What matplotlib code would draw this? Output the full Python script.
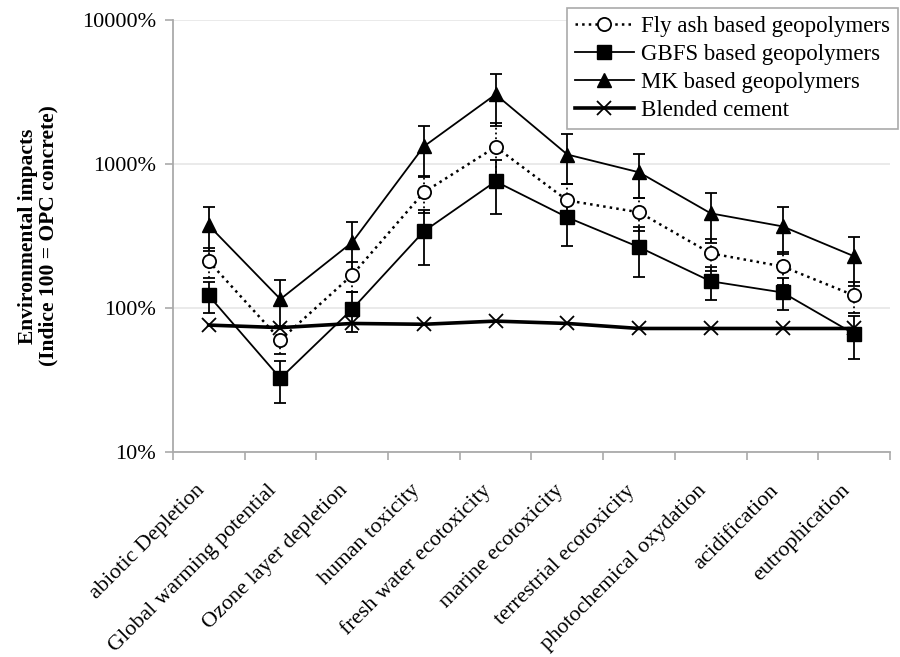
import matplotlib
matplotlib.use("Agg")
import matplotlib.pyplot as plt
from matplotlib.ticker import FixedLocator, FuncFormatter, NullLocator
import numpy as np

plt.rcParams["font.family"] = ["Liberation Serif", "DejaVu Serif"]

# impact categories
categories = [
    "abiotic Depletion",
    "Global warming potential",
    "Ozone layer depletion",
    "human toxicity",
    "fresh water ecotoxicity",
    "marine ecotoxicity",
    "terrestrial ecotoxicity",
    "photochemical oxydation",
    "acidification",
    "eutrophication",
]

# values in % of OPC concrete
fly_ash = [211, 60, 169, 634, 1310, 557, 461, 239, 194, 122]
fly_ash_err = [50, 12, 40, 180, 620, 170, 120, 60, 50, 30]
gbfs = [122, 32.5, 98, 340, 755, 425, 264, 153, 128, 66]
gbfs_err = [30, 10.5, 30, 140, 310, 155, 100, 40, 32, 22]
mk = [374, 115, 285, 1320, 3030, 1160, 873, 453, 368, 228]
mk_err = [125, 40, 110, 500, 1200, 440, 290, 170, 130, 85]
blended = [76, 73, 78, 77, 81, 78, 72, 72, 72, 72]

y_ticks = [10, 100, 1000, 10000]

x = np.arange(len(categories))

fig = plt.figure(figsize=(9, 6.57), dpi=100)
ax = fig.add_axes([0.192, 0.312, 0.797, 0.658])

err_style = dict(capsize=4, elinewidth=1.3, capthick=1.3, color="black", zorder=3)

# fly ash: dotted line, open circles
eb_fly = ax.errorbar(x, fly_ash, yerr=fly_ash_err, linestyle=":", linewidth=1.8,
                     marker="o", markersize=9.5, markerfacecolor="white",
                     markeredgewidth=1.3, **err_style)
eb_fly[-1][0].set_linestyle(":")

eb_gbfs = ax.errorbar(x, gbfs, yerr=gbfs_err, linestyle="-", linewidth=1.3,
                      marker="s", markersize=10.5, **err_style)

eb_mk = ax.errorbar(x, mk, yerr=mk_err, linestyle="-", linewidth=1.3,
                    marker="^", markersize=10.5, **err_style)

line_bl, = ax.plot(x, blended, color="black", linestyle="-", linewidth=2.6,
                   marker="x", markersize=10, markeredgewidth=1.3, zorder=3)

ax.set_yscale("log")
ax.set_ylim(10, 10000)
ax.yaxis.set_major_locator(FixedLocator(y_ticks))
ax.yaxis.set_minor_locator(NullLocator())
ax.yaxis.set_major_formatter(FuncFormatter(lambda v, p: f"{v:.0f}%"))
ax.grid(axis="y", color="#e6e6e6", linewidth=1.2, zorder=0)

ax.set_xlim(-0.5, len(categories) - 0.5)
ax.set_xticks(x)
ax.set_xticklabels(categories, rotation=45, ha="right", rotation_mode="default")
ax.set_xticks(np.arange(len(categories) + 1) - 0.5, minor=True)
ax.tick_params(axis="x", which="major", length=0, pad=21, labelsize=16)
ax.tick_params(axis="x", which="minor", length=6, color="#aaaaaa", width=1.2)
ax.tick_params(axis="y", which="major", length=6, color="#aaaaaa", width=1.2,
               labelsize=16, pad=6)

for side in ["top", "right"]:
    ax.spines[side].set_visible(False)
for side in ["left", "bottom"]:
    ax.spines[side].set_color("#aaaaaa")
    ax.spines[side].set_linewidth(1.3)

ax.set_ylabel("Environmental impacts\n(Indice 100 = OPC concrete)",
              fontsize=15.5, fontweight="bold", linespacing=1.0)
ax.yaxis.set_label_coords(-0.16, 0.5)

handles = [eb_fly[0], eb_gbfs[0], eb_mk[0], line_bl]
labels = ["Fly ash based geopolymers", "GBFS based geopolymers",
          "MK based geopolymers", "Blended cement"]
leg = ax.legend(handles, labels, loc="upper right",
                bbox_to_anchor=(898 / 900, 1 - 8 / 657),
                bbox_transform=fig.transFigure, fontsize=16.5, frameon=True,
                fancybox=False, edgecolor="#aaaaaa", framealpha=1,
                handlelength=2.6, labelspacing=0.3, borderpad=0.35,
                handletextpad=0.3, borderaxespad=0)
leg.get_frame().set_linewidth(1.2)

fig.savefig("out.png", dpi=100)
